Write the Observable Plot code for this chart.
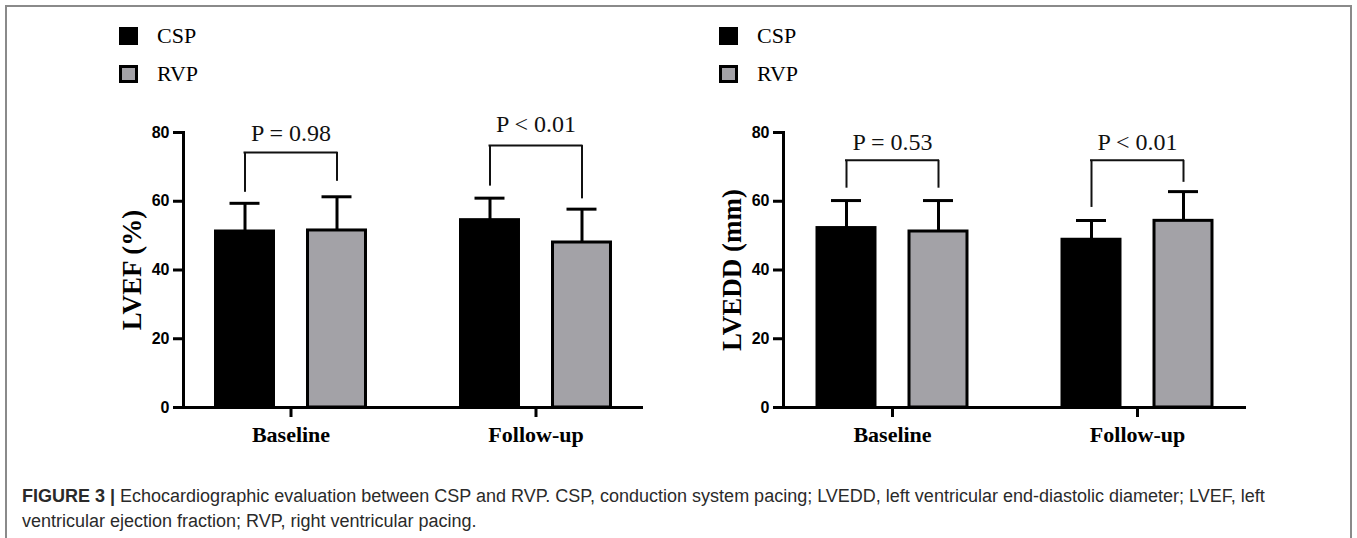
<!DOCTYPE html>
<html>
<head>
<meta charset="utf-8">
<script src="https://cdn.jsdelivr.net/npm/d3@7"></script>
<script src="https://cdn.jsdelivr.net/npm/@observablehq/plot@0.6"></script>
<style>
  html, body { margin: 0; padding: 0; background: #fff; }
  #page { position: relative; width: 1357px; height: 538px; overflow: hidden; background: #fff; }
  #border { position: absolute; left: 5px; top: 5px; width: 1347px; height: 620px; border: 2px solid #8a8a8a; box-sizing: border-box; }
  .panel { position: absolute; top: 0; }
  .sw { position: absolute; width: 19px; height: 18px; box-sizing: border-box; }
  .lt { position: absolute; font-family: "Liberation Serif", "Times New Roman", serif; font-size: 22px; line-height: 22px; color: #000; white-space: nowrap; }
  #caption { position: absolute; left: 22px; top: 484px; font-family: "Liberation Sans", Arial, sans-serif; font-size: 18px; line-height: 25px; color: #2a2a2a; white-space: nowrap; }
  #caption b { font-weight: bold; }
  svg [aria-label="y-axis tick label"] text { font-weight: bold; }
  svg [aria-label="x-axis tick label"] text { font-weight: bold; }
</style>
</head>
<body>
<div id="page">
  <div id="border"></div>
  <div id="legendL"></div>
  <div id="legendR"></div>
  <div id="left" class="panel" style="left:0px"></div>
  <div id="right" class="panel" style="left:680px"></div>
  <div id="caption"></div>
</div>
<script>
// ---------- data ----------
const groups = ["Baseline", "Follow-up"];
const seriesNames = ["CSP", "RVP"];
const yTicks = [0, 20, 40, 60, 80];

// LVEF (%)
const lvefCSPMean = [51.2, 54.5];
const lvefCSPSD   = [8.2, 6.4];
const lvefRVPMean = [51.5, 48.0];
const lvefRVPSD   = [9.8, 9.7];
const lvefPLabels = ["P = 0.98", "P < 0.01"];
const lvefBracketTop = [74.2, 76.2];
const lvefLegCSP = [62.6, 64.4];
const lvefLegRVP = [65.8, 60.7];
const lvefPTextY = [77.5, 80.1];

// LVEDD (mm)
const lveddCSPMean = [52.2, 48.8];
const lveddCSPSD   = [8.0, 5.6];
const lveddRVPMean = [51.2, 54.3];
const lveddRVPSD   = [9.0, 8.5];
const lveddPLabels = ["P = 0.53", "P < 0.01"];
const lveddBracketTop = [71.9, 71.9];
const lveddLegCSP = [63.8, 58.2];
const lveddLegRVP = [63.8, 65.5];
const lveddPTextY = [74.8, 74.8];

const captionBold = "FIGURE 3 |";
const captionLine1 = " Echocardiographic evaluation between CSP and RVP. CSP, conduction system pacing; LVEDD, left ventricular end-diastolic diameter; LVEF, left";
const captionLine2 = "ventricular ejection fraction; RVP, right ventricular pacing.";

// ---------- styles ----------
const BLACK = "#000000";
const GRAY = "#a3a2a7";
const SERIF = "Liberation Serif, Times New Roman, serif";
const SANS = "Liberation Sans, Arial, sans-serif";

function makeRows(means, sds) {
  return groups.map((g, i) => ({group: g, mean: means[i], sd: sds[i]}));
}
function makeP(labels, top, legC, legR, ty) {
  return groups.map((g, i) => ({group: g, label: labels[i], top: top[i], legCSP: legC[i], legRVP: legR[i], ty: ty[i]}));
}

function panel({width, marginLeft, marginRight, paddingOuter, yLabel, csp, rvp, p}) {
  return Plot.plot({
    width, height: 460,
    marginLeft, marginRight, marginTop: 132, marginBottom: 53,
    style: {background: "transparent", overflow: "visible", fontFamily: SANS, color: "#000"},
    x: {type: "band", domain: groups, paddingInner: 0.3878, paddingOuter, align: 0.5, round: false},
    y: {domain: [0, 80]},
    marks: [
      Plot.barY(csp, {x: "group", y: "mean", fill: BLACK, stroke: BLACK, strokeWidth: 3, insetRight: 92}),
      Plot.barY(rvp, {x: "group", y: "mean", fill: GRAY, stroke: BLACK, strokeWidth: 3, insetLeft: 92}),
      Plot.ruleX(csp, {x: "group", y1: "mean", y2: d => d.mean + d.sd, dx: -46, stroke: BLACK, strokeWidth: 3}),
      Plot.ruleX(rvp, {x: "group", y1: "mean", y2: d => d.mean + d.sd, dx: 46, stroke: BLACK, strokeWidth: 3}),
      Plot.tickY(csp, {x: "group", y: d => d.mean + d.sd, insetLeft: 14, insetRight: 106, stroke: BLACK, strokeWidth: 3}),
      Plot.tickY(rvp, {x: "group", y: d => d.mean + d.sd, insetLeft: 106, insetRight: 14, stroke: BLACK, strokeWidth: 3}),
      Plot.ruleX(p, {x: "group", y1: "legCSP", y2: "top", dx: -46, stroke: "#111", strokeWidth: 2}),
      Plot.ruleX(p, {x: "group", y1: "legRVP", y2: "top", dx: 46, stroke: "#111", strokeWidth: 2}),
      Plot.tickY(p, {x: "group", y: "top", insetLeft: 28, insetRight: 28, stroke: "#111", strokeWidth: 2}),
      Plot.text(p, {x: "group", y: "ty", text: "label", lineAnchor: "bottom", fontSize: 24, fontFamily: SERIF, fill: "#111"}),
      Plot.ruleY([0], {stroke: BLACK, strokeWidth: 3}),
      Plot.frame({anchor: "left", stroke: BLACK, strokeWidth: 3}),
      Plot.axisY({ticks: yTicks, tickSize: 10, tickPadding: 4, stroke: BLACK, strokeWidth: 3, fontSize: 16, fontWeight: "bold", fontFamily: SANS, label: null}),
      Plot.axisX({tickSize: 10, tickPadding: 9, stroke: BLACK, strokeWidth: 3, fontSize: 22, fontWeight: "bold", fontFamily: SERIF, label: null}),
      Plot.text([yLabel], {text: d => d, frameAnchor: "left", textAnchor: "middle", rotate: -90, dx: -51, fontSize: 27, fontWeight: "bold", fontFamily: SERIF, fill: BLACK})
    ]
  });
}

document.getElementById("left").append(panel({
  width: 680, marginLeft: 183, marginRight: 37, paddingOuter: 0.1327,
  yLabel: "LVEF (%)",
  csp: makeRows(lvefCSPMean, lvefCSPSD),
  rvp: makeRows(lvefRVPMean, lvefRVPSD),
  p: makeP(lvefPLabels, lvefBracketTop, lvefLegCSP, lvefLegRVP, lvefPTextY)
}));

document.getElementById("right").append(panel({
  width: 677, marginLeft: 103, marginRight: 111, paddingOuter: 0.1388,
  yLabel: "LVEDD (mm)",
  csp: makeRows(lveddCSPMean, lveddCSPSD),
  rvp: makeRows(lveddRVPMean, lveddRVPSD),
  p: makeP(lveddPLabels, lveddBracketTop, lveddLegCSP, lveddLegRVP, lveddPTextY)
}));

// legends
function legend(el, left) {
  const fills = [BLACK, GRAY];
  seriesNames.forEach((name, i) => {
    const sw = document.createElement("div");
    sw.className = "sw";
    sw.style.left = left + "px";
    sw.style.top = (27 + i * 38) + "px";
    sw.style.background = fills[i];
    sw.style.border = "3px solid #000";
    el.appendChild(sw);
    const t = document.createElement("div");
    t.className = "lt";
    t.style.left = (left + 38) + "px";
    t.style.top = (25 + i * 38) + "px";
    t.textContent = name;
    el.appendChild(t);
  });
}
legend(document.getElementById("legendL"), 119);
legend(document.getElementById("legendR"), 719);

// caption
const cap = document.getElementById("caption");
const b = document.createElement("b");
b.textContent = captionBold;
cap.appendChild(b);
cap.appendChild(document.createTextNode(captionLine1));
cap.appendChild(document.createElement("br"));
cap.appendChild(document.createTextNode(captionLine2));
</script>
</body>
</html>
